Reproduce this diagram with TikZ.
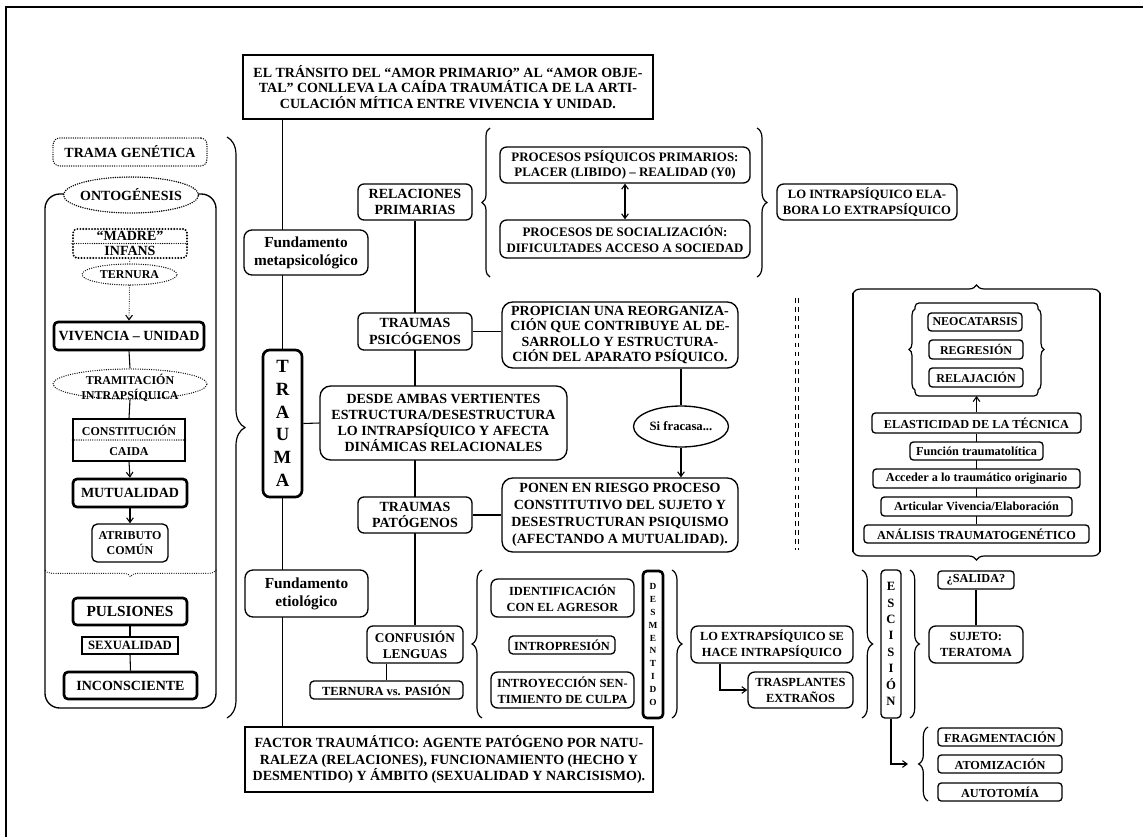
\documentclass[tikz,border=0pt]{standalone}
\usepackage{fontspec}
\setmainfont{Liberation Serif}
\usetikzlibrary{shapes.geometric,decorations.pathreplacing,arrows.meta,backgrounds}
\newcommand\fsz[2]{\fontsize{#1}{#2}\selectfont\bfseries}
\begin{document}
\begin{tikzpicture}[x=0.75pt,y=-0.75pt,
  bx/.style 2 args={draw,line width=1pt,fill=white,align=center,inner sep=0pt,minimum width=#1*0.75pt,minimum height=#2*0.75pt},
  ell/.style 2 args={draw,shape=ellipse,fill=white,inner sep=0pt,line width=1pt,minimum width=#1*0.75pt,minimum height=#2*0.75pt},
  thk/.style={line width=2pt},
  dots/.style={line cap=round,dash pattern=on 0pt off 1.7pt},
  conn/.style={line width=0.8pt},
  arr/.style={conn,-{Straight Barb[length=3.5pt,width=5pt]}},
  brc/.style={decorate,decoration={brace,amplitude=#1},line width=0.9pt},
  txt/.style={align=center,inner sep=0pt}
]
\useasboundingbox (0,0) rectangle (1143,836);
% frame
\draw[line width=2.2pt] (6,860) -- (6,7) -- (1170,7);

% header and footer
\node[bx={410}{64},font=\fsz{10.5}{11.6}] (header) at (448,87) {EL TRÁNSITO DEL “AMOR PRIMARIO” AL “AMOR OBJE-\\TAL” CONLLEVA LA CAÍDA TRAUMÁTICA DE LA ARTI-\\CULACIÓN MÍTICA ENTRE VIVENCIA Y UNIDAD.};
\node[bx={408}{65},font=\fsz{10.5}{12.3}] (factor) at (449,759.5) {FACTOR TRAUMÁTICO: AGENTE PATÓGENO POR NATU-\\RALEZA (RELACIONES), FUNCIONAMIENTO (HECHO Y\\DESMENTIDO) Y ÁMBITO (SEXUALIDAD Y NARCISISMO).};

% left column
\node[bx={154}{28},rounded corners=5pt,dots,line width=1.1pt,font=\fsz{10.5}{12}] (trama) at (130,152) {TRAMA GENÉTICA};
\draw[line width=1pt,rounded corners=11pt] (45,194) rectangle (216,708);
\draw[dots,brc=5pt] (216,570) -- (45,570);
\node[ell={135}{36},dots,line width=1.2pt] (onto) at (131,195) {};
\node[txt,font=\fsz{10.5}{12}] (ontot) at (onto) {ONTOGÉNESIS};
\node[bx={114}{29},rounded corners=3pt,line width=1.6pt,line cap=round,dash pattern=on 0pt off 2.2pt,font=\fsz{10.5}{11.3}] (madre) at (130,243.5) {“MADRE”\\INFANS};
\draw[dots,line width=1pt] (madre.west) -- (madre.east);
\node[ell={95}{21},dots] (tern) at (129.5,274.5) {};
\node[txt,font=\fsz{9}{10}] (ternt) at (tern) {TERNURA};
\node[bx={150}{28},thk,rounded corners=3pt,font=\fsz{10.5}{12}] (viv) at (129,336) {VIVENCIA – UNIDAD};
\node[ell={154}{30},dots] (tram) at (130,384) {};
\node[txt,font=\fsz{9}{11.3}] (tramt) at (130,387.5) {TRAMITACIÓN\\INTRAPSÍQUICA};
\node[bx={112}{42},font=\fsz{9}{15}] (const) at (129,440) {CONSTITUCIÓN\\CAIDA};
\draw[dots,line width=1pt] (const.west) -- (const.east);
\node[bx={114}{28},thk,rounded corners=3pt,font=\fsz{10.5}{12}] (mutu) at (130,493) {MUTUALIDAD};
\node[bx={76}{38},rounded corners=4pt,font=\fsz{9}{11}] (atrib) at (130,543) {ATRIBUTO\\COMÚN};
\node[bx={114}{27},thk,rounded corners=3pt,font=\fsz{11.5}{13}] (puls) at (130,611.5) {PULSIONES};
\node[bx={96}{17},font=\fsz{9.5}{11}] (sexu) at (130,645.5) {SEXUALIDAD};
\node[bx={133}{27},thk,rounded corners=3pt,font=\fsz{10.5}{12}] (incon) at (130.5,685.5) {INCONSCIENTE};
\draw[brc=13.5pt] (227,137) -- (227,718);

% main column
\node[bx={124}{45},rounded corners=6pt,font=\fsz{11.5}{13.5}] (fmeta) at (306,252.5) {Fundamento\\metapsicológico};
\node[bx={39}{147},thk,rounded corners=5pt,font=\fsz{14}{17}] (trauma) at (282.5,423.5) {T\\R\\A\\U\\M\\A};
\node[bx={123}{47},rounded corners=6pt,font=\fsz{11.5}{13.5}] (fetio) at (306.5,593.5) {Fundamento\\etiológico};

% second column
\node[bx={114}{36},rounded corners=4.5pt,font=\fsz{10.5}{12.5}] (relac) at (415,202) {RELACIONES\\PRIMARIAS};
\node[bx={114}{37},rounded corners=4.5pt,font=\fsz{10.5}{12.5}] (tpsico) at (415,331.5) {TRAUMAS\\PSICÓGENOS};
\node[bx={247}{74},rounded corners=8pt,font=\fsz{10.5}{12.2}] (desde) at (443.5,423) {DESDE AMBAS VERTIENTES\\ESTRUCTURA/DESESTRUCTURA\\LO INTRAPSÍQUICO Y AFECTA\\DINÁMICAS RELACIONALES};
\node[bx={114}{36},rounded corners=4.5pt,font=\fsz{10.5}{12.5}] (tpato) at (415,515) {TRAUMAS\\PATÓGENOS};
\node[bx={96}{37},rounded corners=4.5pt,font=\fsz{10}{12}] (confus) at (415,644.5) {CONFUSIÓN\\LENGUAS};
\node[bx={153}{18},rounded corners=3pt,font=\fsz{9.3}{11}] (ternpas) at (386.5,690) {TERNURA vs. PASIÓN};

% upper right group
\draw[brc=6pt] (490,277) -- (490,128);
\node[bx={250}{36},rounded corners=5pt,font=\fsz{9.7}{11}] (ppp) at (625,165) {PROCESOS PSÍQUICOS PRIMARIOS:\\PLACER (LIBIDO) – REALIDAD (Y0)};
\node[bx={250}{38},rounded corners=5pt,font=\fsz{9.7}{12}] (psoc) at (625,239) {PROCESOS DE SOCIALIZACIÓN:\\DIFICULTADES ACCESO A SOCIEDAD};
\draw[brc=7.5pt] (757,128) -- (757,277);
\node[bx={180}{36},rounded corners=5pt,font=\fsz{9.5}{11.5}] (lointra) at (867,202) {LO INTRAPSÍQUICO ELA-\\BORA LO EXTRAPSÍQUICO};

% middle right
\node[bx={236}{66},rounded corners=8pt,font=\fsz{10.5}{11.3}] (propic) at (620,335) {PROPICIAN UNA REORGANIZA-\\CIÓN QUE CONTRIBUYE AL DE-\\SARROLLO Y ESTRUCTURA-\\CIÓN DEL APARATO PSÍQUICO.};
\node[ell={95}{41}] (sifra) at (681,426.5) {};
\node[txt,font=\fsz{9.5}{11}] (sifrat) at (sifra) {Si fracasa...};
\node[bx={236}{74},rounded corners=8pt,font=\fsz{10.5}{12.7}] (ponen) at (620,515) {PONEN EN RIESGO PROCESO\\CONSTITUTIVO DEL SUJETO Y\\DESESTRUCTURAN PSIQUISMO\\(AFECTANDO A MUTUALIDAD).};

% double dashed separator
\draw[line width=0.7pt,dash pattern=on 3.5pt off 3.2pt] (795.5,298) -- (795.5,550);
\draw[line width=0.7pt,dash pattern=on 3.5pt off 3.2pt] (798.5,298) -- (798.5,550);

% right group
\draw[brc=6pt] (853,293) -- (1100,293);
\draw[line width=0.9pt] (853,293) -- (853,552) (1100,293) -- (1100,552);
\draw[brc=6pt] (1100,552) -- (853,552);
\draw[line width=0.9pt,rounded corners=3pt] (915,309) -- (915,303) -- (1038,303) -- (1038,309);
\draw[line width=0.9pt,rounded corners=3pt] (915,390) -- (915,396) -- (1038,396) -- (1038,390);
\draw[brc=4.5pt] (915,390) -- (915,309);
\draw[brc=4.5pt] (1038,309) -- (1038,390);
\node[bx={94}{18},rounded corners=2.5pt,font=\fsz{9}{10}] (neo) at (975,322) {NEOCATARSIS};
\node[bx={94}{19},rounded corners=2.5pt,font=\fsz{9}{10}] (regre) at (976,349.5) {REGRESIÓN};
\node[bx={94}{19},rounded corners=2.5pt,font=\fsz{9}{10}] (relaj) at (976,377.5) {RELAJACIÓN};
\coordinate (innerbot) at (976.5,396);
\node[bx={209}{20},rounded corners=2.5pt,font=\fsz{9.2}{10}] (elast) at (976.5,423) {ELASTICIDAD DE LA TÉCNICA};
\node[bx={133}{18},rounded corners=2.5pt,font=\fsz{9.2}{10}] (funcion) at (976.5,451) {Función traumatolítica};
\node[bx={207}{19},rounded corners=2.5pt,font=\fsz{9.2}{10}] (acceder) at (976.5,478.5) {Acceder a lo traumático originario};
\node[bx={191}{19},rounded corners=2.5pt,font=\fsz{9.2}{10}] (articular) at (976.5,506.5) {Articular Vivencia/Elaboración};
\node[bx={225}{18},rounded corners=2.5pt,font=\fsz{9.2}{10}] (analisis) at (976.5,534) {ANÁLISIS TRAUMATOGENÉTICO};
\node[bx={76}{18},rounded corners=2.5pt,font=\fsz{9.2}{10}] (salida) at (976,580) {¿SALIDA?};
\node[bx={94}{37},rounded corners=5pt,font=\fsz{9.3}{12}] (sujeto) at (976,644.5) {SUJETO:\\TERATOMA};

% bottom middle group
\draw[brc=7.5pt] (482,718) -- (482,570);
\node[bx={143}{38},rounded corners=5pt,font=\fsz{9.3}{12}] (ident) at (562.5,598) {IDENTIFICACIÓN\\CON EL AGRESOR};
\node[bx={106}{18},rounded corners=3pt,font=\fsz{9.3}{10}] (intro) at (562,645) {INTROPRESIÓN};
\node[bx={143}{36},rounded corners=5pt,font=\fsz{9.3}{12}] (introy) at (562.5,690) {INTROYECCIÓN SEN-\\TIMIENTO DE CULPA};
\node[bx={20}{147},thk,rounded corners=3pt,font=\fsz{7}{9.7}] (desm) at (653,644.5) {D\\E\\S\\M\\E\\N\\T\\I\\D\\O};
\draw[brc=7.5pt] (672,570) -- (672,718);
\node[bx={162}{37},rounded corners=5pt,font=\fsz{9.3}{12}] (loextra) at (772,644.5) {LO EXTRAPSÍQUICO SE\\HACE INTRAPSÍQUICO};
\node[bx={105}{36},rounded corners=5pt,font=\fsz{9.3}{12}] (traspl) at (800.5,690) {TRASPLANTES\\EXTRAÑOS};
\coordinate (lx) at (720,0);
\draw[brc=8pt] (862,570) -- (862,718);
\node[bx={20}{148},rounded corners=3pt,font=\fsz{9.5}{12.3}] (escis) at (891,644) {E\\S\\C\\I\\S\\I\\Ó\\N};
\draw[brc=7pt] (910,570) -- (910,718);
\coordinate (fragtip) at (908,764);
\draw[brc=7pt] (928,801) -- (928,727);
\node[bx={124}{18},rounded corners=2.5pt,font=\fsz{9.2}{10}] (frag) at (1000,737) {FRAGMENTACIÓN};
\node[bx={124}{18},rounded corners=2.5pt,font=\fsz{9.2}{10}] (atom) at (1000,764) {ATOMIZACIÓN};
\node[bx={124}{18},rounded corners=2.5pt,font=\fsz{9.2}{10}] (autot) at (1000,792) {AUTOTOMÍA};

% connectors
\begin{pgfonlayer}{background}
\draw[conn] (header.south -| trauma.north) -- (trauma.north);
\draw[conn] (trauma.south) -- (factor.north -| trauma.south);
\draw[conn] (trauma.east) -- (desde.west);
\draw[conn] (relac.south) -- (confus.north);
\draw[conn] (confus.south -| ternpas.north) -- (ternpas.north);
\draw[conn] (tpsico.east) -- (tpsico.east -| propic.west);
\draw[conn] (tpato.east) -- (ponen.west);
\draw[conn] (propic.south -| sifra.north) -- (sifra.north);
\draw[arr] (sifra.south) -- (ponen.north -| sifra.south);
\draw[conn,{Straight Barb[length=3.5pt,width=5pt]}-{Straight Barb[length=3.5pt,width=5pt]}] (ppp.south) -- (psoc.north);
\draw[conn,dots] (madre.south) -- (tern.north);
\draw[arr,dots] (tern.south) -- (viv.north);
\draw[conn] (viv.south) -- (tram.north);
\draw[conn] (tram.south) -- (const.north);
\draw[arr] (const.south) -- (mutu.north);
\draw[arr] (mutu.south) -- (atrib.north);
\draw[conn] (puls.south) -- (sexu.north);
\draw[conn] (sexu.south) -- (incon.north);
\draw[arr] (elast.north) -- (innerbot);
\draw[conn] (analisis.north) -- (elast.south);
\draw[conn] (salida.south) -- (sujeto.north);
\draw[arr] (loextra.south -| lx) |- (traspl.west);
\draw[arr] (escis.south) |- (fragtip);
\end{pgfonlayer}
\end{tikzpicture}
\end{document}
